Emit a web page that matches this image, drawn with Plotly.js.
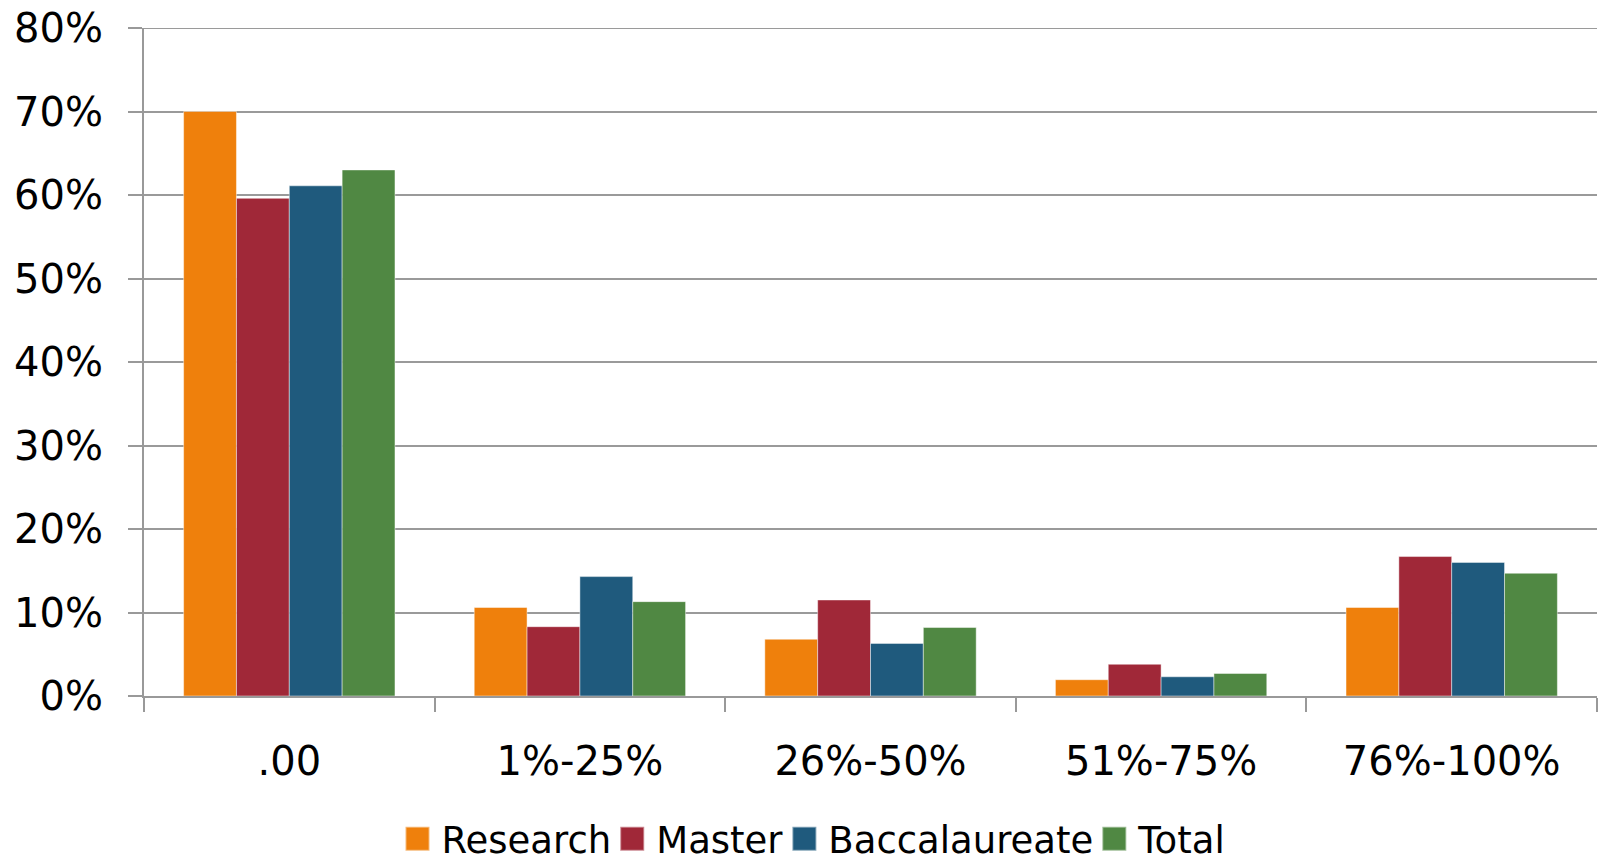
<!DOCTYPE html>
<html>
<head>
<meta charset="utf-8">
<script src="https://cdn.plot.ly/plotly-3.0.1.min.js"></script>
<style>
html,body{margin:0;padding:0;background:#fff;}
#chart{width:1601px;height:866px;}
</style>
</head>
<body>
<div id="chart"></div>
<script>
const categories = ['.00', '1%-25%', '26%-50%', '51%-75%', '76%-100%'];
const seriesNames = ['Research', 'Master', 'Baccalaureate', 'Total'];
const research = [0.700, 0.106, 0.068, 0.0195, 0.106];
const master = [0.596, 0.083, 0.115, 0.038, 0.167];
const baccalaureate = [0.611, 0.143, 0.063, 0.023, 0.160];
const total = [0.630, 0.113, 0.082, 0.027, 0.147];
const yTickVals = [0, 0.1, 0.2, 0.3, 0.4, 0.5, 0.6, 0.7, 0.8];
const yMax = 0.8;

const colors = ['#EF800C', '#A02838', '#1F5A7D', '#508843'];
const seriesValues = [research, master, baccalaureate, total];

const FONT = '"DejaVu Sans", "Open Sans", sans-serif';

const traces = seriesValues.map((vals, i) => ({
  type: 'bar',
  name: seriesNames[i],
  x: categories,
  y: vals,
  marker: {color: colors[i], line: {color: 'rgba(255,255,255,0.45)', width: 1}},
  hoverinfo: 'skip'
}));

const layout = {
  width: 1601,
  height: 866,
  paper_bgcolor: '#ffffff',
  plot_bgcolor: '#ffffff',
  margin: {l: 144, r: 4, t: 28, b: 170},
  barmode: 'group',
  bargap: 0.2727,
  bargroupgap: 0,
  font: {family: FONT, color: '#000000', size: 40},
  showlegend: true,
  legend: {
    orientation: 'h',
    xref: 'container', yref: 'container',
    x: 0.51, xanchor: 'center',
    y: 0.031, yanchor: 'middle',
    maxheight: 300,
    font: {family: FONT, size: 37, color: '#000000'},
    itemclick: false, itemdoubleclick: false,
    traceorder: 'normal'
  },
  shapes: [{
    type: 'line', xref: 'paper', yref: 'y',
    x0: 0, x1: 1, y0: yMax, y1: yMax,
    line: {color: '#9a9a9a', width: 2},
    layer: 'below'
  }],
  xaxis: {
    type: 'category',
    showgrid: false,
    showline: true,
    linecolor: '#999999',
    linewidth: 2,
    ticks: 'outside',
    tickson: 'boundaries',
    ticklen: 14,
    tickwidth: 2,
    tickcolor: '#999999',
    tickfont: {family: FONT, size: 40, color: '#000000'},
    ticklabelstandoff: 29,
    fixedrange: true
  },
  yaxis: {
    range: [0, yMax],
    tickvals: yTickVals,
    tickformat: '.0%',
    showgrid: true,
    gridcolor: '#9a9a9a',
    gridwidth: 2,
    zeroline: false,
    showline: true,
    linecolor: '#999999',
    linewidth: 2,
    ticks: 'outside',
    ticklen: 14,
    tickwidth: 2,
    tickcolor: '#999999',
    tickfont: {family: FONT, size: 40, color: '#000000'},
    ticklabelstandoff: 17,
    fixedrange: true
  }
};

Plotly.newPlot('chart', traces, layout, {staticPlot: true, displayModeBar: false}).then(() => {
  document.querySelectorAll('.legend .legendpoints path').forEach(p => {
    const t = p.getAttribute('transform') || '';
    p.setAttribute('transform', t + ' translate(-4,0) scale(2)');
  });
});
</script>
</body>
</html>
